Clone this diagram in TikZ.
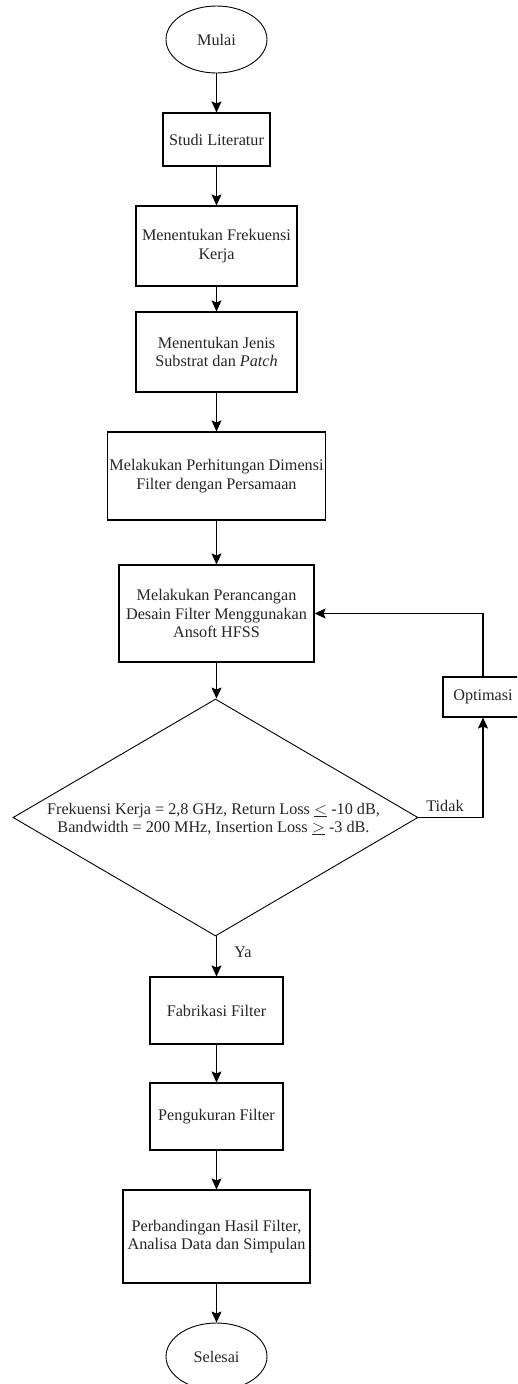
\documentclass[tikz,border=0pt]{standalone}
\usepackage{fontspec}
\setmainfont{Liberation Serif}
\usetikzlibrary{shapes.geometric,arrows.meta}
\begin{document}
\begin{tikzpicture}[x=1pt,y=-1pt,
  every node/.style={font=\fontsize{16.2}{18.5}\selectfont, align=center, inner sep=0pt, text=black!85},
  procbox/.style={draw, line width=1.1pt, rectangle},
  term/.style={draw, line width=0.9pt, ellipse, minimum width=101pt, minimum height=67pt},
  flow/.style={draw, line width=1.1pt, -{Stealth[length=11pt,width=10pt,inset=2pt]}},
  lbl/.style={font=\fontsize{16.2}{18.5}\selectfont}
]
\useasboundingbox (0,0) rectangle (517,1384);
\clip (0,0) rectangle (517,1384);
\fill[white] (0,0) rectangle (517,1384);

\node[term] (mulai) at (216.5,39.5) {Mulai};
\node[procbox, minimum width=107pt, minimum height=53pt] (studi) at (216.5,139.5) {Studi Literatur};
\node[procbox, minimum width=161pt, minimum height=80pt] (frek) at (216.5,246) {Menentukan Frekuensi\\Kerja};
\node[procbox, minimum width=161pt, minimum height=80pt] (jenis) at (216.5,352) {Menentukan Jenis\\Substrat dan \textit{Patch}};
\node[procbox, minimum width=218pt, minimum height=88pt] (hitung) at (216.5,476) {Melakukan Perhitungan Dimensi\\Filter dengan Persamaan};
\node[procbox, minimum width=195pt, minimum height=97pt] (rancang) at (216.5,613.5) {Melakukan Perancangan\\Desain Filter Menggunakan\\Ansoft HFSS};
\node[draw, line width=0.9pt, diamond, minimum width=405pt, minimum height=237pt] (dec) at (215.5,817.5) {};
\node (dectext) at (213.5,819) {Frekuensi Kerja = 2,8 GHz, Return Loss $\underline{<}$ -10 dB,\\Bandwidth = 200 MHz, Insertion Loss $\underline{>}$ -3 dB.};
\node[procbox, minimum width=80pt, minimum height=40pt] (opt) at (483,697) {Optimasi};
\node[procbox, minimum width=133pt, minimum height=67pt] (fab) at (216.5,1010.5) {Fabrikasi Filter};
\node[procbox, minimum width=133pt, minimum height=67pt] (ukur) at (216.5,1116.5) {Pengukuran Filter};
\node[procbox, minimum width=187pt, minimum height=93pt] (banding) at (216.5,1236.5) {Perbandingan Hasil Filter,\\Analisa Data dan Simpulan};
\node[term] (selesai) at (216.5,1356.5) {Selesai};

\draw[flow] (mulai) -- (studi);
\draw[flow] (studi) -- (frek);
\draw[flow] (frek) -- (jenis);
\draw[flow] (jenis) -- (hitung);
\draw[flow] (hitung) -- (rancang);
\draw[flow] (rancang.south) -- (rancang.south |- dec.north);
\draw[flow] (dec.south -| rancang.south) -- (fab);
\draw[flow] (fab) -- (ukur);
\draw[flow] (ukur) -- (banding);
\draw[flow] (banding) -- (selesai);
\draw[flow] (dec.east) -| (opt.south);
\draw[flow] (opt.north) |- (rancang.east);

\node[lbl] (tidak) at (445,806) {Tidak};
\node[lbl] (ya) at (243,952) {Ya};
\end{tikzpicture}
\end{document}
